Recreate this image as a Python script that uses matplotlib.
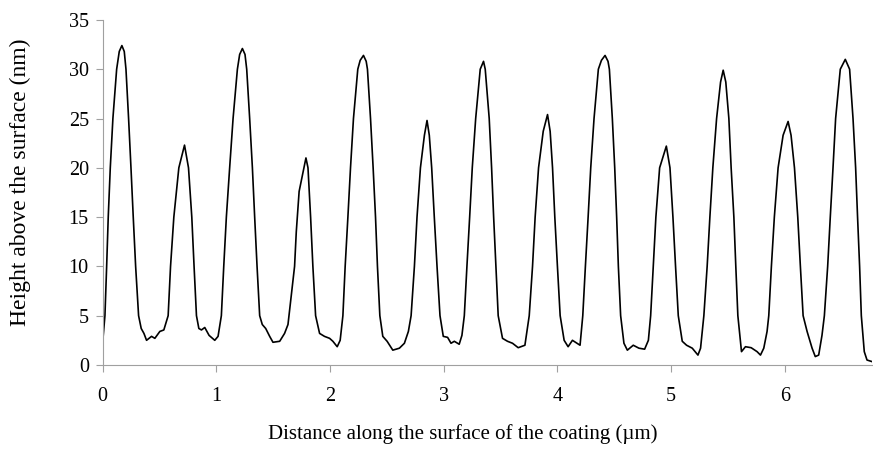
import numpy as np
import matplotlib
matplotlib.use("Agg")
import matplotlib.pyplot as plt

# profile (distance in um, height in nm)
distance = [0.0, 0.02, 0.035, 0.049, 0.067, 0.09, 0.123, 0.146, 0.169, 0.19, 0.205, 0.228,
            0.249, 0.269, 0.29, 0.316, 0.339, 0.363, 0.386, 0.43, 0.459, 0.503, 0.538,
            0.576, 0.597, 0.626, 0.67, 0.72, 0.755, 0.784, 0.804, 0.825, 0.846, 0.869,
            0.898, 0.936, 0.986, 1.015, 1.044,
            1.065, 1.088, 1.117, 1.147, 1.185, 1.205, 1.229, 1.252, 1.267, 1.293, 1.317,
            1.337, 1.358, 1.381, 1.404, 1.434, 1.469, 1.498, 1.557, 1.6, 1.63, 1.688,
            1.703, 1.728, 1.788, 1.806, 1.829, 1.849, 1.873, 1.908, 1.951, 1.996, 2.025,
            2.063, 2.089, 2.113,
            2.133, 2.157, 2.18, 2.206, 2.244, 2.265, 2.294, 2.318, 2.329, 2.356, 2.379,
            2.4, 2.417, 2.438, 2.464, 2.502, 2.552, 2.61, 2.654, 2.689, 2.713,
            2.742, 2.765, 2.795, 2.83, 2.853, 2.873, 2.894, 2.917, 2.941, 2.967, 2.996,
            3.034, 3.064, 3.093, 3.136, 3.16, 3.181,
            3.204, 3.228, 3.251, 3.281, 3.321, 3.35, 3.365, 3.4, 3.421, 3.439, 3.459,
            3.479, 3.517, 3.561, 3.605, 3.655, 3.714, 3.752,
            3.781, 3.804, 3.834, 3.875, 3.913, 3.936, 3.957, 3.977, 4.0, 4.024, 4.059,
            4.094, 4.132, 4.199, 4.223,
            4.246, 4.27, 4.293, 4.322, 4.36, 4.387, 4.419, 4.445, 4.457, 4.483, 4.504,
            4.521, 4.536, 4.556, 4.585, 4.615, 4.667, 4.717, 4.767, 4.8, 4.82,
            4.843, 4.866, 4.899, 4.958, 4.99, 5.016, 5.039, 5.063, 5.098, 5.136, 5.186,
            5.236, 5.259, 5.288,
            5.317, 5.341, 5.367, 5.4, 5.435, 5.458, 5.481, 5.508, 5.528, 5.552, 5.569,
            5.587, 5.619, 5.654, 5.704, 5.756, 5.786, 5.815, 5.844, 5.859,
            5.882, 5.908, 5.941, 5.985, 6.029, 6.055, 6.085, 6.114, 6.137, 6.161, 6.196,
            6.24, 6.268, 6.298, 6.327, 6.348,
            6.377, 6.4, 6.424, 6.447, 6.488, 6.532, 6.57, 6.6, 6.623, 6.64, 6.658,
            6.673, 6.699, 6.723, 6.764]
height = [2.3, 5, 10, 15, 20, 25, 30, 31.8, 32.4, 31.8, 30, 25,
          20, 15, 10, 5, 3.7, 3.2, 2.5, 2.9, 2.7, 3.4, 3.55,
          5, 10, 15, 20, 22.3, 20, 15, 10, 5, 3.7, 3.55,
          3.8, 3.0, 2.5, 2.9, 5,
          10, 15, 20, 25, 30, 31.5, 32.1, 31.5, 30, 25, 20,
          15, 10, 5, 4.1, 3.7, 2.9, 2.3, 2.4, 3.2, 4.1, 10,
          13.5, 17.6, 21.0, 20, 15, 10, 5, 3.2, 2.9, 2.7, 2.4,
          1.85, 2.5, 5,
          10, 15, 20, 25, 30, 30.9, 31.4, 30.8, 30, 25, 20,
          15, 10, 5, 2.9, 2.4, 1.5, 1.7, 2.2, 3.4, 5,
          10, 15, 20, 23.3, 24.8, 23.3, 20, 15, 10, 5, 2.9,
          2.8, 2.2, 2.4, 2.1, 3.0, 5,
          10, 15, 20, 25, 30, 30.8, 30, 25, 20, 15, 10,
          5, 2.7, 2.4, 2.2, 1.75, 2.0, 5,
          10, 15, 20, 23.7, 25.4, 23.7, 20, 15, 10, 5, 2.5,
          1.85, 2.5, 2.0, 5,
          10, 15, 20, 25, 30, 30.9, 31.4, 30.8, 30, 25, 20,
          15, 10, 5, 2.2, 1.5, 2.0, 1.7, 1.6, 2.5, 5,
          10, 15, 20, 22.2, 20, 15, 10, 5, 2.4, 2.0, 1.7,
          1.0, 1.7, 5,
          10, 15, 20, 25, 28.7, 29.9, 28.7, 25, 20, 15, 10,
          5, 1.35, 1.85, 1.75, 1.35, 1.0, 1.7, 3.4, 5,
          10, 15, 20, 23.3, 24.7, 23.3, 20, 15, 10, 5, 3.4,
          1.7, 0.85, 1.0, 3.0, 5,
          10, 15, 20, 25, 30, 31.0, 30, 25, 20, 15, 10,
          5, 1.35, 0.5, 0.35]

plt.rcParams['font.family'] = ['Liberation Serif', 'DejaVu Serif']
plt.rcParams['font.size'] = 14.5

fig = plt.figure(figsize=(8.73, 4.5), dpi=100)
ax = fig.add_axes([0.1176, 0.189, 0.881, 0.7667])

ax.plot(distance, height, color='black', linewidth=1.2)

ax.set_xlim(0, 6.765)
ax.set_ylim(0, 35)
ax.set_xticks(range(0, 7))
ax.set_yticks(range(0, 36, 5))

for side in ['top', 'right']:
    ax.spines[side].set_visible(False)
for side in ['left', 'bottom']:
    ax.spines[side].set_color('#a0a0a0')
ax.tick_params(colors='#a0a0a0', labelcolor='black', length=5)
ax.tick_params(axis='x', pad=11)
ax.tick_params(axis='y', pad=5)

ax.set_xlabel("Distance along the surface of the coating (\u00b5m)", fontsize=15, va='top')
ax.xaxis.set_label_coords(0.468, -0.17)
ax.set_ylabel("Height above the surface (nm)", fontsize=17, va='center')
ax.yaxis.set_label_coords(-0.107, 0.53)

fig.savefig("out.png")
